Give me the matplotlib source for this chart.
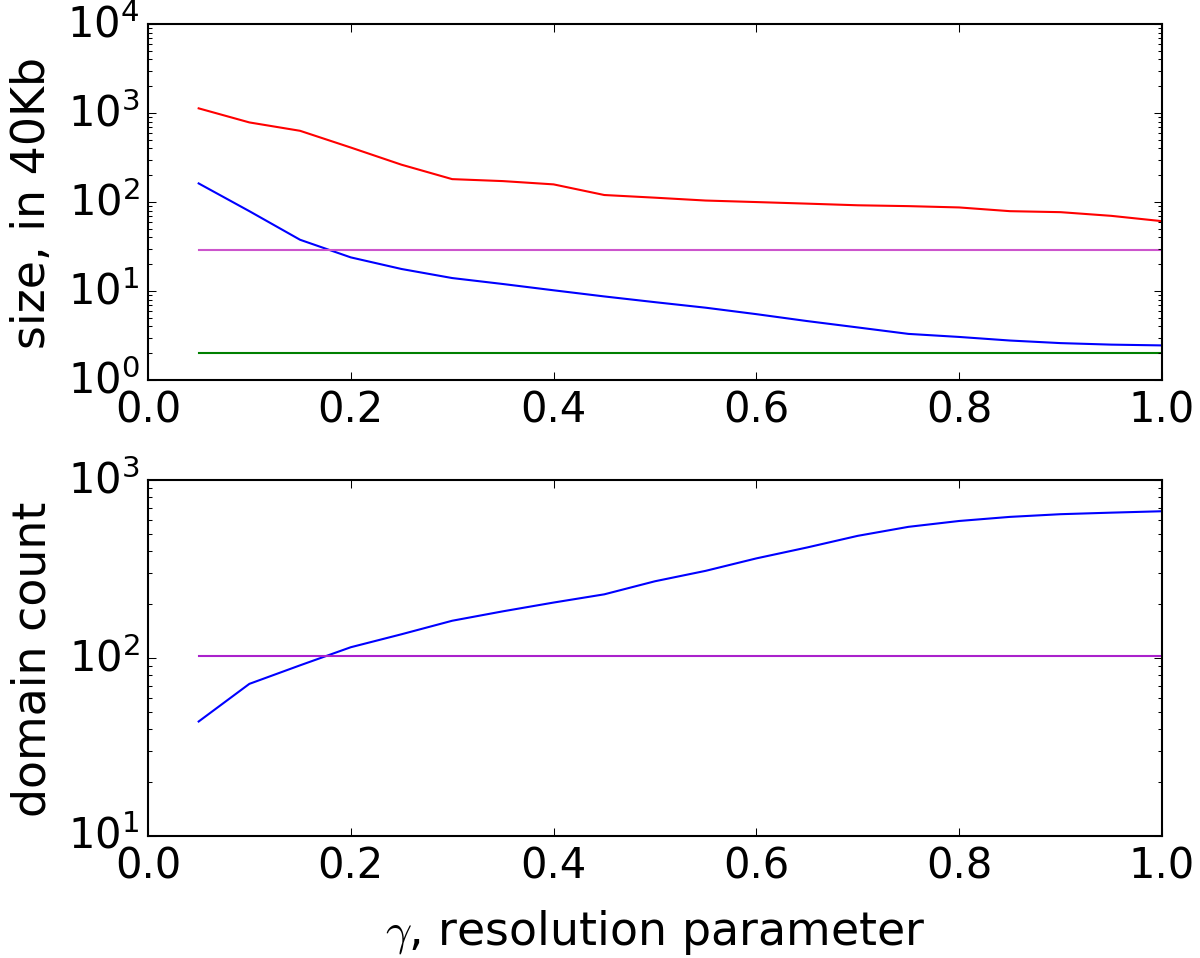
import matplotlib
matplotlib.use("Agg")
import matplotlib.pyplot as plt
import numpy as np

# gamma grid, sizes (in 40Kb bins) and domain counts
gamma = [0.05, 0.10, 0.15, 0.20, 0.25, 0.30, 0.35, 0.40, 0.45, 0.50,
         0.55, 0.60, 0.65, 0.70, 0.75, 0.80, 0.85, 0.90, 0.95, 1.00]
size_max = [1130, 785, 632, 410, 263, 181, 172, 158, 120, 112,
            104, 100, 96, 92, 90, 87, 79, 77, 70, 61]
size_mean = [162, 79, 37.7, 23.9, 17.7, 14.0, 12.0, 10.2, 8.7, 7.5,
             6.5, 5.5, 4.6, 3.9, 3.3, 3.05, 2.78, 2.6, 2.5, 2.45]
count = [44, 71.6, 91, 115, 136, 162, 183, 205, 228, 270,
         309, 363, 418, 486, 546, 589, 621, 643, 656, 668]
ref_size_max = 29.1
ref_size_min = 2.0
ref_count = 102.5
font_size = 20
label_size = 22

plt.style.use("classic")
plt.rcParams["figure.facecolor"] = "white"
plt.rcParams["savefig.facecolor"] = "white"

fig = plt.figure(figsize=(8, 6.393), dpi=150)
ax1 = fig.add_axes([0.1233, 0.6027, 0.845, 0.3712])
ax2 = fig.add_axes([0.1233, 0.1272, 0.845, 0.3712])

ax1.semilogy(gamma, size_max, color="r", lw=1.0)
ax1.semilogy(gamma, size_mean, color="b", lw=1.0)
ax1.semilogy([gamma[0], gamma[-1]], [ref_size_max] * 2, color="#cc55cc", lw=1.0)
ax1.semilogy([gamma[0], gamma[-1]], [ref_size_min] * 2, color="g", lw=1.0)
ax1.set_xlim(0, 1)
ax1.set_ylim(1, 1e4)
ax1.set_ylabel("size, in 40Kb", size=label_size, labelpad=6)

ax2.semilogy(gamma, count, color="b", lw=1.0)
ax2.semilogy([gamma[0], gamma[-1]], [ref_count] * 2, color="#aa22cc", lw=1.0)
ax2.set_xlim(0, 1)
ax2.set_ylim(10, 1e3)
ax2.set_ylabel("domain count", size=label_size, labelpad=6)
ax2.set_xlabel(r"$\gamma$, resolution parameter", size=label_size, labelpad=10)

for a in (ax1, ax2):
    a.tick_params(labelsize=font_size)
    a.set_xticks(np.arange(0, 1.01, 0.2))

fig.savefig("out.png", dpi=150)
